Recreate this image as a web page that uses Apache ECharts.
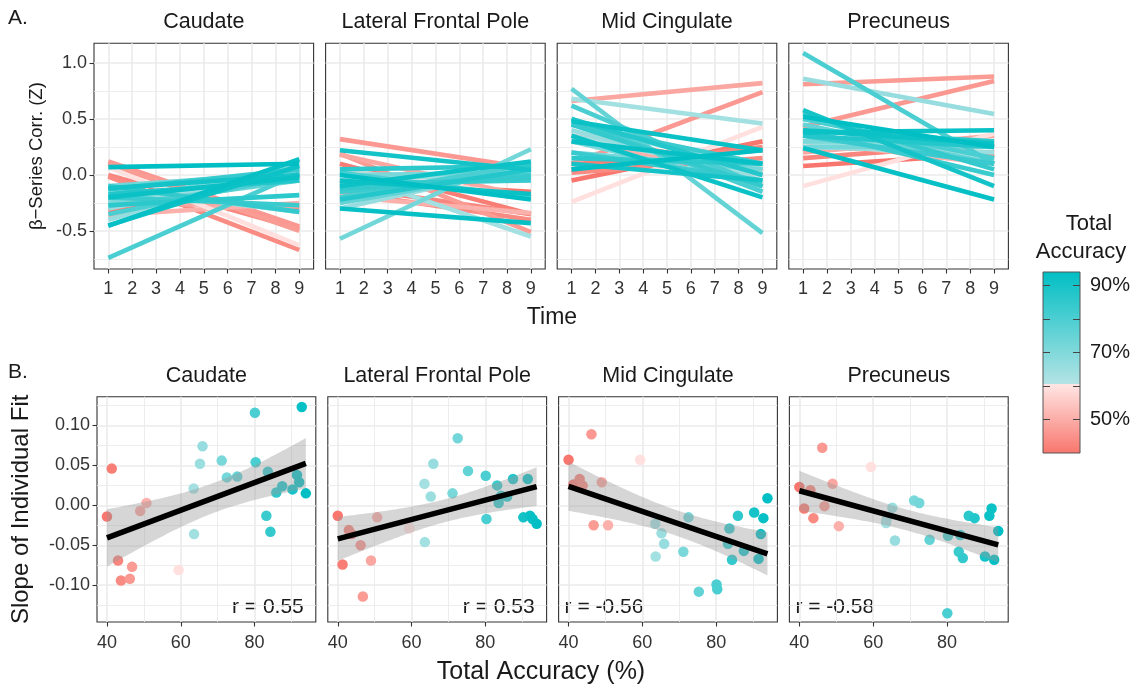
<!DOCTYPE html>
<html>
<head>
<meta charset="utf-8">
<script src="https://cdn.jsdelivr.net/npm/echarts@6/dist/echarts.min.js"></script>
<style>
  html, body { margin: 0; padding: 0; background: #fff; }
  #chart { width: 1142px; height: 688px; }
</style>
</head>
<body>
<div id="chart"></div>
<script>
// ---- data -------------------------------------------------------------
const regions = ['Caudate', 'Lateral Frontal Pole', 'Mid Cingulate', 'Precuneus'];
const rLabels = ['r = 0.55', 'r = 0.53', 'r = -0.56', 'r = -0.58'];

// total accuracy (%) for each participant
const accuracy = [40.0, 41.3, 43.0, 43.8, 46.2, 46.8, 49.0, 50.7, 59.4, 63.5, 63.6, 65.2, 65.9, 71.1,
                  72.5, 75.3, 80.1, 80.3, 83.2, 83.6, 84.3, 85.9, 87.5, 90.3, 91.5, 92.1, 92.8, 93.9];

// slope of each participant's individual fit
const caudateSlope = [-0.014, 0.046, -0.069, -0.094, -0.092, -0.077, -0.007, 0.003, -0.081, 0.021, -0.036, 0.052, 0.074, 0.056,
                      0.035, 0.036, 0.116, 0.054, -0.013, 0.042, -0.033, 0.016, 0.024, 0.020, 0.038, 0.029, 0.123, 0.015];
const lfpSlope = [-0.013, -0.074, -0.031, -0.036, -0.050, -0.114, -0.069, -0.015, -0.029, 0.027, -0.046, 0.011, 0.052, 0.015,
                  0.084, 0.043, 0.037, -0.017, 0.025, 0.003, 0.012, 0.011, 0.033, -0.015, 0.033, -0.013, -0.017, -0.023];
const midSlope = [0.057, 0.026, 0.033, 0.025, 0.089, -0.025, 0.029, -0.025, 0.057, -0.023, -0.064, -0.035, -0.048, -0.058,
                  -0.015, -0.108, -0.099, -0.105, -0.048, -0.029, -0.068, -0.013, -0.057, -0.009, -0.067, -0.036, -0.016, 0.009];
const precSlope = [0.023, -0.004, 0.019, -0.016, 0.072, -0.001, 0.027, -0.026, 0.048, -0.022, -0.018, -0.003, -0.044, 0.006,
                   0.003, -0.043, -0.135, -0.038, -0.058, -0.037, -0.066, -0.013, -0.016, -0.064, -0.013, -0.004, -0.068, -0.032];

// fitted beta-series correlation at the first (1) and last (9) time point
const caudateT1 = [-0.22, -0.32, 0.00, -0.015, 0.12, 0.10, -0.25, -0.36, 0.07, -0.22, -0.12, -0.30, -0.40, -0.25,
                   -0.10, -0.28, -0.74, -0.35, -0.20, -0.13, -0.10, -0.27, -0.17, -0.12, -0.45, -0.20, -0.455, 0.07];
const caudateT9 = [-0.30, -0.01, -0.48, -0.67, -0.46, -0.50, -0.28, -0.25, -0.63, -0.05, -0.33, 0.03, 0.05, 0.08,
                   0.02, -0.05, 0.015, 0.00, -0.27, 0.05, -0.33, -0.18, -0.05, 0.00, 0.08, -0.02, 0.14, 0.10];
const lfpT1 = [-0.05, 0.10, -0.10, -0.15, 0.32, 0.19, 0.18, -0.19, 0.05, -0.15, 0.03, -0.05, -0.30, 0.00,
               -0.57, -0.25, -0.20, 0.02, -0.15, -0.08, -0.12, 0.05, -0.22, 0.22, -0.10, -0.05, -0.30, 0.00];
const lfpT9 = [-0.15, -0.35, -0.35, -0.40, 0.06, -0.51, -0.20, -0.34, -0.20, 0.05, -0.55, 0.02, 0.08, 0.02,
               0.23, 0.05, 0.10, -0.20, 0.00, -0.05, -0.02, 0.08, 0.05, 0.045, 0.12, -0.17, -0.43, -0.22];
const midT1 = [-0.05, 0.10, 0.05, 0.02, 0.10, 0.35, 0.66, 0.30, -0.24, 0.35, 0.68, 0.45, 0.40, 0.30,
               0.20, 0.77, 0.62, 0.50, 0.45, 0.20, 0.45, 0.15, 0.50, 0.10, 0.35, 0.48, 0.30, 0.05];
const midT9 = [0.30, 0.22, 0.25, 0.15, 0.74, 0.05, 0.82, 0.00, 0.43, 0.00, 0.46, 0.05, -0.05, -0.10,
               0.05, -0.52, -0.10, -0.15, 0.10, -0.05, -0.10, 0.10, 0.00, -0.05, -0.20, 0.22, 0.10, 0.22];
const precT1 = [0.08, 0.25, 0.15, 0.30, 0.43, 0.81, 0.20, 0.30, -0.10, 0.35, 0.30, 0.25, 0.86, 0.30,
                0.25, 0.45, 1.09, 0.50, 0.40, 0.35, 0.55, 0.40, 0.35, 0.58, 0.40, 0.38, 0.24, 0.52];
const precT9 = [0.19, 0.20, 0.28, 0.15, 0.84, 0.88, 0.35, 0.10, 0.37, 0.15, 0.12, 0.20, 0.545, 0.30,
                0.25, 0.10, 0.10, 0.15, 0.00, 0.10, 0.05, 0.30, 0.25, -0.10, 0.28, 0.40, -0.22, 0.25];

const timeTicks = [1, 2, 3, 4, 5, 6, 7, 8, 9];
const corrTicks = [-0.5, 0, 0.5, 1.0];
const corrMinor = [-0.75, -0.25, 0.25, 0.75];
const accTicks = [40, 60, 80];
const accMinor = [50, 70, 90];
const slopeTicks = [-0.10, -0.05, 0, 0.05, 0.10];
const slopeMinor = [-0.125, -0.075, -0.025, 0.025, 0.075, 0.125];
const legendTicks = [50, 60, 70, 80, 90];
const legendLabels = [50, 70, 90];

const startSeries = [caudateT1, lfpT1, midT1, precT1];
const endSeries = [caudateT9, lfpT9, midT9, precT9];
const slopeSeries = [caudateSlope, lfpSlope, midSlope, precSlope];

// ---- styling / layout ------------------------------------------------
const FONT = '"Liberation Sans", Arial, sans-serif';
const TXT = '#1a1a1a';
const TOP = { x0: 94, y: 43.3, w: 219.6, h: 225.7, gap: 12 };
const BOT = { x0: 97, y: 396.7, w: 218.8, h: 225.3, gap: 12 };
const TOP_X = [0.4, 9.6], TOP_Y = [-0.84, 1.176];
const BOT_X = [37.3, 96.6], BOT_Y = [-0.146, 0.136];

// colour scale for accuracy: red side below ~60 %, teal side above
const accMin = Math.min(...accuracy), accMax = Math.max(...accuracy);
const colourStops = [[accMin, '#F8766D'], [60.5, '#FFE6E4'], [60.6, '#FFFFFF'], [60.7, '#B3E3E4'], [accMax, '#00BFC4']];
function hexRgb(h) { return [1, 3, 5].map(i => parseInt(h.slice(i, i + 2), 16)); }
function accColour(v) {
  v = Math.max(accMin, Math.min(accMax, v));
  for (let k = 0; k < colourStops.length - 1; k++) {
    const [a, ca] = colourStops[k], [b, cb] = colourStops[k + 1];
    if (v <= b) {
      const t = b === a ? 0 : (v - a) / (b - a);
      const A = hexRgb(ca), B = hexRgb(cb);
      return 'rgb(' + A.map((x, i) => Math.round(x + (B[i] - x) * t)).join(',') + ')';
    }
  }
  return colourStops[colourStops.length - 1][1];
}

// ordinary least squares fit with 95% confidence band
function lmFit(xs, ys) {
  const n = xs.length;
  const mx = xs.reduce((s, v) => s + v, 0) / n, my = ys.reduce((s, v) => s + v, 0) / n;
  let sxx = 0, sxy = 0;
  for (let i = 0; i < n; i++) { sxx += (xs[i] - mx) ** 2; sxy += (xs[i] - mx) * (ys[i] - my); }
  const b = sxy / sxx, a = my - b * mx;
  let sse = 0;
  for (let i = 0; i < n; i++) sse += (ys[i] - a - b * xs[i]) ** 2;
  const s = Math.sqrt(sse / (n - 2));
  const tq = 2.0555; // t(0.975, df = 26)
  const lo = Math.min(...xs), hi = Math.max(...xs);
  const band = [];
  for (let k = 0; k <= 80; k++) {
    const x = lo + (hi - lo) * k / 80;
    const f = a + b * x, se = s * Math.sqrt(1 / n + (x - mx) ** 2 / sxx);
    band.push([x, f - tq * se, f + tq * se]);
  }
  return { line: [[lo, a + b * lo], [hi, a + b * hi]], band };
}

// ---- grids and axes --------------------------------------------------
const grids = [], xAxes = [], yAxes = [], series = [], graphic = [];

function axis(gi, range, ticks, o) {
  return {
    type: 'value', gridIndex: gi, min: range[0], max: range[1], position: o.position,
    axisLine: { show: false, onZero: false },
    axisTick: { show: !!o.tick, customValues: ticks, length: 4.5, lineStyle: { color: '#333', width: 1.1 } },
    axisLabel: { show: !!o.label, customValues: ticks, formatter: o.fmt, color: '#333', fontSize: 18,
                 fontFamily: FONT, margin: o.margin },
    splitLine: { show: ticks.length > 0, lineStyle: { color: '#EBEBEB', width: o.gw } },
    minorTick: { show: false }, minorSplitLine: { show: false }
  };
}

for (let r = 0; r < 2; r++) {
  const L = r === 0 ? TOP : BOT;
  for (let p = 0; p < 4; p++) {
    const gi = r * 4 + p;
    const left = L.x0 + p * (L.w + L.gap);
    grids.push({ left, top: L.y, width: L.w, height: L.h, show: true, backgroundColor: '#fff',
                 borderColor: '#333', borderWidth: 1.1, containLabel: false });
    if (r === 0) {
      xAxes.push(axis(gi, TOP_X, timeTicks, { position: 'bottom', tick: true, label: true, fmt: v => String(v), margin: 11, gw: 1.6 }));
      xAxes.push(axis(gi, TOP_X, [], { position: 'top', gw: 0.9 }));
      yAxes.push(axis(gi, TOP_Y, corrTicks, { position: 'left', tick: p === 0, label: p === 0, fmt: v => v.toFixed(1), margin: 7, gw: 1.6 }));
      yAxes.push(axis(gi, TOP_Y, corrMinor, { position: 'right', gw: 0.9 }));
    } else {
      xAxes.push(axis(gi, BOT_X, accTicks, { position: 'bottom', tick: true, label: true, fmt: v => String(v), margin: 12, gw: 1.6 }));
      xAxes.push(axis(gi, BOT_X, accMinor, { position: 'top', gw: 0.9 }));
      yAxes.push(axis(gi, BOT_Y, slopeTicks, { position: 'left', tick: p === 0, label: p === 0, fmt: v => v.toFixed(2), margin: 7, gw: 1.6 }));
      yAxes.push(axis(gi, BOT_Y, slopeMinor, { position: 'right', gw: 0.9 }));
    }
    // facet strip title
    graphic.push({ type: 'text', x: left + L.w / 2, y: L.y - 21, silent: true,
      style: { text: regions[p], font: '21.5px ' + FONT, fill: TXT, align: 'center', verticalAlign: 'middle',
               textAlign: 'center', textVerticalAlign: 'middle' } });
  }
}

// ---- A: individual trajectories over time -----------------------------
for (let p = 0; p < 4; p++) {
  const ax = 2 * p;
  for (let i = 0; i < accuracy.length; i++) {
    series.push({
      type: 'line', xAxisIndex: ax, yAxisIndex: ax, silent: true, symbol: 'none', z: 2,
      data: [[timeTicks[0], startSeries[p][i]], [timeTicks[timeTicks.length - 1], endSeries[p][i]]],
      lineStyle: { color: accColour(accuracy[i]), width: 4.6, cap: 'butt' }
    });
  }
}

// ---- B: slopes vs accuracy with linear fit ----------------------------
for (let p = 0; p < 4; p++) {
  const ax = 2 * (4 + p);
  const ys = slopeSeries[p];
  series.push({
    type: 'scatter', xAxisIndex: ax, yAxisIndex: ax, silent: true, z: 2, symbolSize: 10.5,
    data: accuracy.map((a, i) => ({ value: [a, ys[i]], itemStyle: { color: accColour(a), opacity: 1 } }))
  });
  const fit = lmFit(accuracy, ys);
  series.push({
    type: 'custom', xAxisIndex: ax, yAxisIndex: ax, silent: true, z: 3, clip: true,
    data: fit.band,
    renderItem: function (params, api) {
      if (params.dataIndex !== 0) return null;
      const pts = fit.band.map(d => api.coord([d[0], d[2]]))
        .concat(fit.band.slice().reverse().map(d => api.coord([d[0], d[1]])));
      return { type: 'polygon', shape: { points: pts }, style: { fill: 'rgba(153,153,153,0.4)' } };
    }
  });
  series.push({
    type: 'line', xAxisIndex: ax, yAxisIndex: ax, silent: true, symbol: 'none', z: 4,
    data: fit.line, lineStyle: { color: '#000', width: 5.6 }
  });
  // correlation label
  const left = BOT.x0 + p * (BOT.w + BOT.gap);
  const pos = p < 2;
  graphic.push({ type: 'text', x: pos ? left + BOT.w - 12 : left + 6, y: BOT.y + BOT.h - 15, silent: true,
    style: { text: rLabels[p], font: '21px ' + FONT, fill: TXT, align: pos ? 'right' : 'left',
             textAlign: pos ? 'right' : 'left', verticalAlign: 'middle', textVerticalAlign: 'middle' } });
}

// ---- titles ----------------------------------------------------------
function txt(text, x, y, size, opts) {
  opts = opts || {};
  graphic.push({ type: 'text', x, y, rotation: opts.rot || 0, silent: true,
    style: { text, font: size + 'px ' + FONT, fill: TXT, align: opts.align || 'center', textAlign: opts.align || 'center',
             verticalAlign: 'middle', textVerticalAlign: 'middle' } });
}
txt('A.', 8, 18, 21, { align: 'left' });
txt('B.', 8, 372, 21, { align: 'left' });
txt('Time', 552, 318, 23);
txt('Total Accuracy (%)', 541, 672, 25);
txt('\u03b2\u2212Series Corr. (Z)', 37, TOP.y + TOP.h / 2, 18.5, { rot: Math.PI / 2 });
txt('Slope of Individual Fit', 21, BOT.y + BOT.h / 2, 24, { rot: Math.PI / 2 });

// ---- colour bar legend ----------------------------------------------
const CB = { x: 1043, y: 272, w: 37, h: 181 };
txt('Total', 1089, 224, 22);
txt('Accuracy', 1081, 252, 22);
const cbY = v => CB.y + CB.h - (v - accMin) / (accMax - accMin) * CB.h;
graphic.push({ type: 'rect', silent: true, shape: { x: CB.x, y: CB.y, width: CB.w, height: CB.h },
  style: { fill: { type: 'linear', x: 0, y: 1, x2: 0, y2: 0,
    colorStops: colourStops.map(([v, c]) => ({ offset: (v - accMin) / (accMax - accMin), color: c })) },
    stroke: '#555', lineWidth: 1 } });
legendTicks.forEach(v => {
  const y = Math.round(cbY(v)) + 0.5;
  graphic.push({ type: 'line', silent: true, shape: { x1: CB.x, y1: y, x2: CB.x + 7, y2: y }, style: { stroke: '#444', lineWidth: 1 } });
  graphic.push({ type: 'line', silent: true, shape: { x1: CB.x + CB.w - 7, y1: y, x2: CB.x + CB.w, y2: y }, style: { stroke: '#444', lineWidth: 1 } });
});
legendLabels.forEach(v => txt(v + '%', CB.x + CB.w + 10, cbY(v), 20, { align: 'left' }));

const chart = echarts.init(document.getElementById('chart'), null, { renderer: 'canvas', width: 1142, height: 688 });
chart.setOption({
  animation: false,
  backgroundColor: '#fff',
  textStyle: { fontFamily: FONT },
  grid: grids, xAxis: xAxes, yAxis: yAxes, series, graphic
});
</script>
</body>
</html>
